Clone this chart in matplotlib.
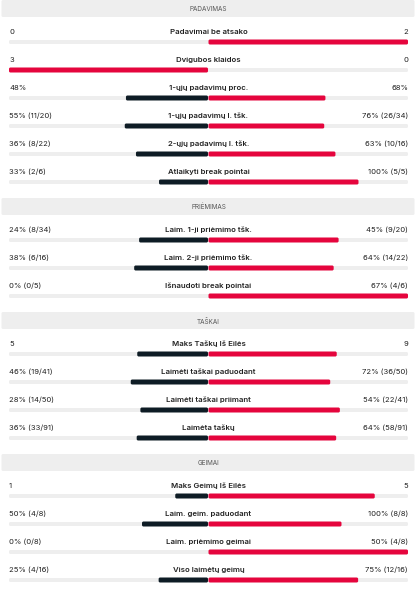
import matplotlib
matplotlib.use("Agg")
import matplotlib.pyplot as plt
from matplotlib.patches import FancyBboxPatch

# section titles and how many rows each section has
sections = ["PADAVIMAS", "PRIĖMIMAS", "TAŠKAI", "GEIMAI"]
section_rows = [6, 3, 4, 4]

labels = [
    "Padavimai be atsako", "Dvigubos klaidos", "1-ųjų padavimų proc.",
    "1-ųjų padavimų l. tšk.", "2-ųjų padavimų l. tšk.", "Atlaikyti break pointai",
    "Laim. 1-ji priėmimo tšk.", "Laim. 2-ji priėmimo tšk.", "Išnaudoti break pointai",
    "Maks Taškų Iš Eilės", "Laimėti taškai paduodant", "Laimėti taškai priimant", "Laimėta taškų",
    "Maks Geimų Iš Eilės", "Laim. geim. paduodant", "Laim. priėmimo geimai", "Viso laimėtų geimų",
]
left_text = [
    "0", "3", "48%", "55% (11/20)", "36% (8/22)", "33% (2/6)",
    "24% (8/34)", "38% (6/16)", "0% (0/5)",
    "5", "46% (19/41)", "28% (14/50)", "36% (33/91)",
    "1", "50% (4/8)", "0% (0/8)", "25% (4/16)",
]
right_text = [
    "2", "0", "68%", "76% (26/34)", "63% (10/16)", "100% (5/5)",
    "45% (9/20)", "64% (14/22)", "67% (4/6)",
    "9", "72% (36/50)", "54% (22/41)", "64% (58/91)",
    "5", "100% (8/8)", "50% (4/8)", "75% (12/16)",
]
left_vals = [0, 3, 48, 55, 36, 33, 24, 38, 0, 5, 46, 28, 36, 1, 50, 0, 25]
right_vals = [2, 0, 68, 76, 63, 100, 45, 64, 67, 9, 72, 54, 64, 5, 100, 50, 75]

DARK = "#0e1c25"
RED = "#e5053d"
TRACK = "#eeeeee"
FONT = ["Inter", "DejaVu Sans"]

W, H = 416, 590
x0, x1 = 9, 408
mid = (x0 + x1) / 2
half = (x1 - x0) / 2


def rbar(ax, left, y, width, height, color, z):
    # bar with slightly rounded ends
    p = FancyBboxPatch((left, y - height / 2), width, height,
                       boxstyle="round,pad=0,rounding_size=1.5",
                       fc=color, ec="none", zorder=z)
    ax.add_patch(p)


fig = plt.figure(figsize=(W / 100, H / 100), dpi=100)
ax = fig.add_axes([0, 0, 1, 1])
ax.set_xlim(0, W)
ax.set_ylim(H, 0)
ax.axis("off")

top = 0
i = 0
for name, n in zip(sections, section_rows):
    rbar(ax, 1.5, top + 8.5, 413, 17, TRACK, 1)
    ax.text(mid, top + 9, name, ha="center", va="center", fontsize=4.6,
            color="#555555", family=FONT)
    for r in range(n):
        ty = top + 32 + r * 28
        by = ty + 10
        ax.text(x0, ty, left_text[i], ha="left", va="center", fontsize=5.5,
                color="#222222", family=FONT)
        ax.text(x1, ty, right_text[i], ha="right", va="center", fontsize=5.5,
                color="#222222", family=FONT)
        ax.text(mid, ty, labels[i], ha="center", va="center", fontsize=5.6,
                color="#222222", family=FONT, fontweight="semibold")
        rbar(ax, x0, by, x1 - x0, 4, TRACK, 1)
        lv, rv = left_vals[i], right_vals[i]
        total = lv + rv
        ls = lv / total * half
        rs = rv / total * half
        # the larger side is drawn red, the smaller one dark
        lc = RED if lv > rv else DARK
        rc = RED if rv >= lv else DARK
        if ls > 0:
            rbar(ax, mid - ls, by, ls - 0.5, 5, lc, 2)
        if rs > 0:
            rbar(ax, mid, by, rs, 5, rc, 2)
        i += 1
    top = top + 32 + (n - 1) * 28 + 10 + 16

fig.savefig("out.png", dpi=100)
